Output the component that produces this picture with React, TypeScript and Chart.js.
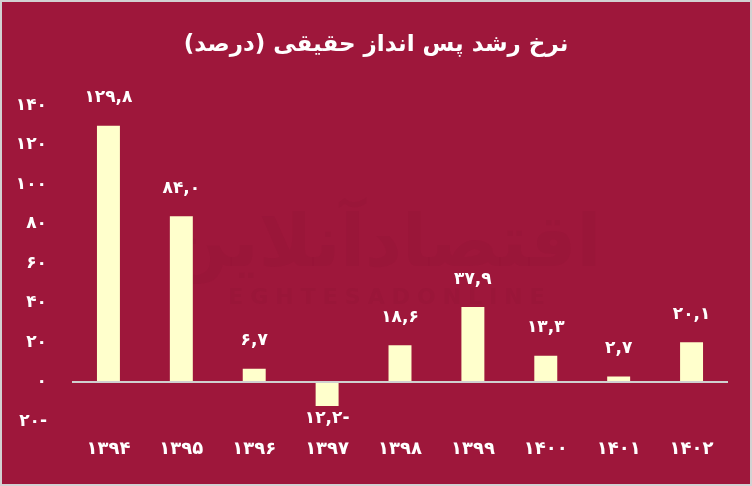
import React, { useEffect, useRef } from 'react';
import { Chart, registerables } from 'chart.js';

Chart.register(...registerables);

const TITLE = 'نرخ رشد پس انداز حقیقی (درصد)';
const years = ['1394', '1395', '1396', '1397', '1398', '1399', '1400', '1401', '1402'];
const values = [129.8, 84.0, 6.7, -12.2, 18.6, 37.9, 13.3, 2.7, 20.1];
const yTicks = [-20, 0, 20, 40, 60, 80, 100, 120, 140];
const WATERMARK_FA = 'اقتصادآنلاین';
const WATERMARK_EN = 'EGHTESADONLINE';

const BG = '#9E173B';
const BAR = '#FFFFCC';
const FONT = "'DejaVu Sans', sans-serif";

const fa = (s: string) => s.replace(/\d/g, (d) => '۰۱۲۳۴۵۶۷۸۹'[+d]);
const fmtVal = (v: number) => fa(Math.abs(v).toFixed(1).replace('.', ',')) + (v < 0 ? '-' : '');
const fmtTick = (v: number) => fa(String(Math.abs(v))) + (v < 0 ? '-' : '');

const watermarkPlugin = {
  id: 'watermark',
  beforeDatasetsDraw(chart: any) {
    const ctx = chart.ctx;
    const a = chart.chartArea;
    const cx = (a.left + a.right) / 2;
    ctx.save();
    ctx.fillStyle = 'rgba(110, 8, 38, 0.07)';
    ctx.textAlign = 'center';
    ctx.textBaseline = 'middle';
    ctx.font = `bold 72px ${FONT}`;
    ctx.fillText(WATERMARK_FA, cx - 16, 245);
    ctx.font = `bold 22px ${FONT}`;
    (ctx as any).letterSpacing = '7px';
    ctx.fillText(WATERMARK_EN, cx - 10, 296);
    ctx.restore();
  },
};

const labelPlugin = {
  id: 'valueLabels',
  afterDatasetsDraw(chart: any) {
    const ctx = chart.ctx;
    const meta = chart.getDatasetMeta(0);
    ctx.save();
    ctx.fillStyle = '#FFFFFF';
    ctx.font = `bold 17px ${FONT}`;
    ctx.textAlign = 'center';
    ctx.textBaseline = 'middle';
    meta.data.forEach((el: any, i: number) => {
      const v = values[i];
      const y = v >= 0 ? el.y - 28 : el.y + 13;
      ctx.fillText(fmtVal(v), el.x, y);
    });
    ctx.restore();
  },
};

export default function App() {
  const ref = useRef<HTMLCanvasElement>(null);

  useEffect(() => {
    document.body.style.margin = '0';
    const chart = new Chart(ref.current as HTMLCanvasElement, {
      type: 'bar',
      data: {
        labels: years.map(fa),
        datasets: [
          {
            data: values,
            backgroundColor: BAR,
            borderWidth: 0,
            barPercentage: 0.315,
            categoryPercentage: 1,
            yAxisID: 'y',
          },
        ],
      },
      plugins: [watermarkPlugin, labelPlugin],
      options: {
        animation: false,
        responsive: true,
        maintainAspectRatio: false,
        layout: { padding: { left: 11, right: 11, top: 0, bottom: 7 } },
        plugins: {
          legend: { display: false },
          tooltip: { enabled: false },
          title: {
            display: true,
            text: TITLE,
            color: '#FFFFFF',
            font: { family: FONT, size: 23, weight: 'bold' },
            padding: { top: 29, bottom: 47 },
          },
        },
        scales: {
          x: {
            grid: { display: false, drawTicks: false },
            border: { display: false },
            ticks: {
              color: '#FFFFFF',
              font: { family: FONT, size: 18, weight: 'bold' },
              padding: 17,
              maxRotation: 0,
            },
          },
          y: {
            position: 'left',
            min: -20,
            max: 140,
            afterBuildTicks: (scale: any) => {
              scale.ticks = yTicks.map((v) => ({ value: v }));
            },
            afterFit: (scale: any) => {
              scale.width = 59;
            },
            grid: {
              drawTicks: false,
              color: (c: any) => (c.tick && c.tick.value === 0 ? '#D0D0D0' : 'rgba(0,0,0,0)'),
              lineWidth: 2,
            },
            border: { display: false },
            ticks: {
              color: '#FFFFFF',
              font: { family: FONT, size: 17, weight: 'bold' },
              padding: 25,
              callback: (v: any) => fmtTick(Number(v)),
            },
          },
          yRight: {
            position: 'right',
            display: true,
            min: -20,
            max: 140,
            afterFit: (scale: any) => {
              scale.width = 11;
            },
            grid: { display: false, drawTicks: false },
            border: { display: false },
            ticks: { display: false },
          },
        },
      },
    });
    return () => chart.destroy();
  }, []);

  return (
    <div
      style={{
        width: 752,
        height: 486,
        boxSizing: 'border-box',
        border: '2px solid #D2D2D2',
        background: BG,
      }}
    >
      <div style={{ position: 'relative', width: 748, height: 482 }}>
        <canvas ref={ref} />
      </div>
    </div>
  );
}
